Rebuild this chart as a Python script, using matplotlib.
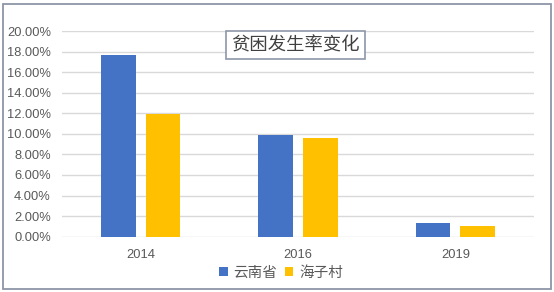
import matplotlib
matplotlib.use("Agg")
import matplotlib.pyplot as plt
from matplotlib.patches import Rectangle
from matplotlib.ticker import FuncFormatter, MultipleLocator

plt.rcParams['font.family'] = ['Noto Sans CJK SC', 'DejaVu Sans']

years = ["2014", "2016", "2019"]
yunnan = [17.7, 9.9, 1.35]     # 云南省 poverty incidence, %
haizi = [11.9, 9.6, 1.0]       # 海子村 poverty incidence, %
series_names = ["云南省", "海子村"]
title = "贫困发生率变化"

blue = "#4472C4"
gold = "#FFC000"
tick_color = "#595959"

fig = plt.figure(figsize=(5.54, 2.92), dpi=100)
fig.patch.set_facecolor("white")

# outer frame of the chart
frame = Rectangle((2.5 / 554, 3.5 / 292), 548 / 554, 285 / 292,
                  transform=fig.transFigure, fill=False,
                  edgecolor="#8D96A8", linewidth=1.3)
fig.add_artist(frame)

ax = fig.add_axes([62 / 554, 55.3 / 292, 472 / 554, 205.7 / 292])
x = range(len(years))
w = 0.222
off = 0.142
ax.bar([i - off for i in x], yunnan, width=w, color=blue, label=series_names[0], zorder=3)
ax.bar([i + off for i in x], haizi, width=w, color=gold, label=series_names[1], zorder=3)

ax.set_xlim(-0.5, 2.5)
ax.set_ylim(0, 20)
ax.yaxis.set_major_locator(MultipleLocator(2))
ax.yaxis.set_major_formatter(FuncFormatter(lambda v, p: f"{v:.2f}%"))
ax.set_xticks(list(x))
ax.set_xticklabels(years)
ax.grid(axis="y", color="#D9D9D9", linewidth=1.0, zorder=0)
for s in ax.spines.values():
    s.set_visible(False)
ax.tick_params(axis="both", length=0, colors=tick_color)
ax.tick_params(axis="x", pad=9)
ax.tick_params(axis="y", pad=8)
for lab in ax.get_xticklabels() + ax.get_yticklabels():
    lab.set_family(["Liberation Sans", "DejaVu Sans"])
    lab.set_fontsize(9.3)

ax.text(295.5 / 554, 1 - 45 / 292, title, transform=fig.transFigure,
        ha="center", va="center", fontsize=13.2, color="#404040",
        bbox=dict(boxstyle="square,pad=0.28", facecolor="white",
                  edgecolor="#8D96A8", linewidth=1.2), zorder=5)

leg = ax.legend(loc="center", bbox_to_anchor=(281 / 554, 19 / 292),
                bbox_transform=fig.transFigure, ncol=2, frameon=False,
                fontsize=10.5, handlelength=0.6, handleheight=0.6,
                handletextpad=0.4, columnspacing=0.5)
for t in leg.get_texts():
    t.set_color(tick_color)

fig.savefig("out.png", dpi=100)
